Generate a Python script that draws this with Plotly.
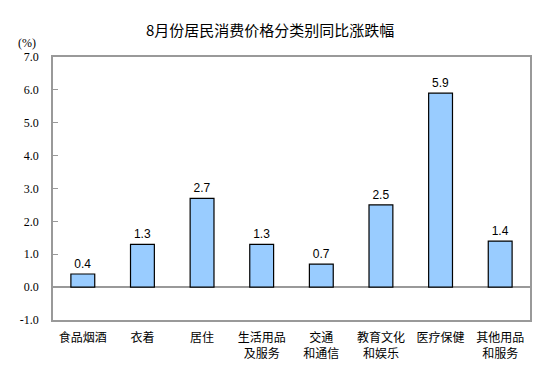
import plotly.graph_objects as go

categories = ["食品烟酒", "衣着", "居住", "生活用品<br>及服务", "交通<br>和通信", "教育文化<br>和娱乐", "医疗保健", "其他用品<br>和服务"]
values = [0.4, 1.3, 2.7, 1.3, 0.7, 2.5, 5.9, 1.4]
title_text = "8月份居民消费价格分类别同比涨跌幅"
y_ticks = [-1, 0, 1, 2, 3, 4, 5, 6, 7]
y_tick_labels = [f"{v:.1f}" for v in y_ticks]

cjk = "Noto Sans CJK SC, sans-serif"

# page has an 8px body margin; figure drawn offset by it
OFF = 8
W, H = 553 - OFF, 384 - OFF
L, R, T, B = 53 - OFF, 23, 57 - OFF, 64

fig = go.Figure(go.Bar(
    x=categories, y=values,
    marker=dict(color="#99CCFF", line=dict(color="#000000", width=1.2)),
    width=0.4,
    text=[f"{v:.1f}" for v in values],
    textposition="outside",
    textfont=dict(family="Liberation Sans, Arial", size=12, color="#000000"),
    cliponaxis=False,
))

fig.update_layout(
    width=W, height=H,
    margin=dict(l=L, r=R, t=T, b=B, autoexpand=False),
    paper_bgcolor="white", plot_bgcolor="white",
    showlegend=False,
    bargap=0.6,
)
fig.update_xaxes(
    automargin=False,
    showline=True, linecolor="#999999", linewidth=1.5, mirror=True,
    showgrid=False, ticks="",
    tickfont=dict(family=cjk, size=12, color="#000000"),
    ticklabelstandoff=6,
)
fig.update_yaxes(
    automargin=False,
    range=[-1, 7], tickvals=y_ticks, ticktext=y_tick_labels,
    showline=True, linecolor="#999999", linewidth=1.5, mirror=True,
    showgrid=False, zeroline=True, zerolinecolor="#999999", zerolinewidth=1.5,
    ticks="inside", ticklen=5, tickcolor="#999999",
    tickfont=dict(family="Liberation Serif, Times New Roman", size=12, color="#000000"),
    ticklabelstandoff=10,
)
pw, ph = W - L - R, H - T - B
fig.add_annotation(
    text=title_text, xref="paper", yref="paper",
    x=(270 - OFF - L) / pw, y=1 + (T - (30 - OFF)) / ph,
    xanchor="center", yanchor="middle", showarrow=False,
    font=dict(family=cjk, size=15, color="#000000"),
)
fig.add_annotation(
    text="(%)", xref="paper", yref="paper",
    x=(27 - OFF - L) / pw, y=1 + (T - (43 - OFF)) / ph,
    xanchor="center", yanchor="middle", showarrow=False,
    font=dict(family="Liberation Serif, Times New Roman", size=12, color="#000000"),
)

fig.write_html("out.html")
